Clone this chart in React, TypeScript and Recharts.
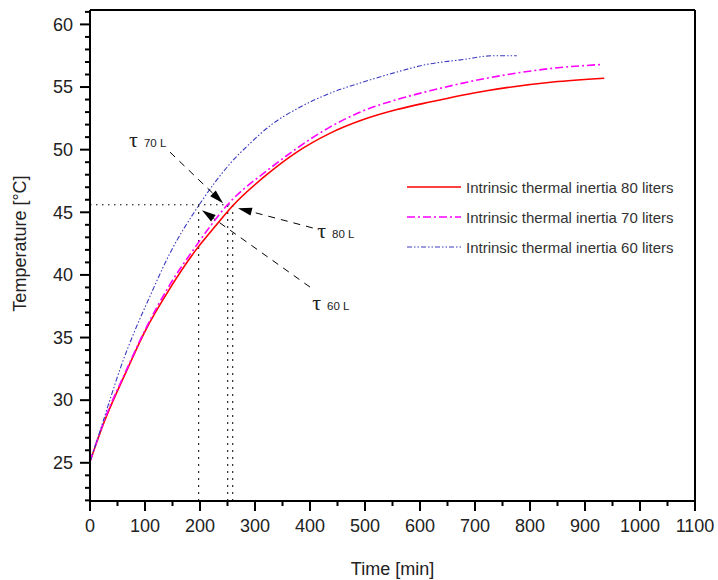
import React from 'react';
import { LineChart, Line, XAxis, YAxis, ReferenceLine, ReferenceDot, Legend } from 'recharts';

const FONT = '"Liberation Sans", Arial, sans-serif';

// readings: time [min] and temperature [°C]
const time80 = [0, 27, 64, 100, 145, 191, 230, 259, 327, 376, 436, 497, 558, 618, 721, 842, 935];
const temp80 = [25.1, 28.4, 32.1, 35.5, 38.9, 41.9, 44.0, 45.5, 48.2, 49.8, 51.3, 52.4, 53.2, 53.8, 54.7, 55.4, 55.7];

const time70 = [0, 27, 64, 100, 145, 191, 250, 327, 376, 436, 497, 558, 618, 721, 842, 931];
const temp70 = [25.1, 28.5, 32.2, 35.6, 39.2, 42.2, 45.6, 48.5, 50.1, 51.8, 53.1, 54.0, 54.7, 55.7, 56.5, 56.8];

const time60 = [0, 18, 36, 58, 82, 106, 145, 197, 255, 291, 327, 382, 436, 497, 558, 612, 679, 733, 776];
const temp60 = [25.1, 27.5, 30.0, 32.9, 35.6, 38.0, 41.7, 45.5, 48.9, 50.5, 51.9, 53.4, 54.5, 55.4, 56.2, 56.8, 57.2, 57.5, 57.5];

const seriesNames = [
    'Intrinsic thermal inertia 80 liters',
    'Intrinsic thermal inertia 70 liters',
    'Intrinsic thermal inertia 60 liters',
];
const seriesColors = ['#ff0000', '#ff00ff', '#3a3ac0'];
const seriesDash = ['', '8 3 2 3', '5 2 1.5 2 1.5 2'];

// time constants (tau) read where each curve crosses 45.6 °C
const tauLevel = 45.6;
const tauTimes = [197.6, 250.4, 259.5];

const xTicks = Array.from({ length: 23 }, (_, i) => i * 50);
const yTicks = Array.from({ length: 40 }, (_, i) => 22 + i);

const pairs = (ts: number[], vs: number[]) => ts.map((t, i) => ({ time: t, temp: vs[i] }));
const data80 = pairs(time80, temp80);
const data70 = pairs(time70, temp70);
const data60 = pairs(time60, temp60);

function XTick({ x, y, payload }: any) {
    const major = payload.value % 100 === 0;
    return (
        <g>
            <line x1={x} x2={x} y1={y} y2={y + (major ? 10 : 5)} stroke="#000" strokeWidth={2} />
            {major && (
                <text x={x} y={y + 31} textAnchor="middle" fontSize={18} fill="#222" fontFamily={FONT}>
                    {payload.value}
                </text>
            )}
        </g>
    );
}

function YTick({ x, y, payload }: any) {
    const major = payload.value % 5 === 0;
    return (
        <g>
            <line x1={x - (major ? 10 : 5)} x2={x} y1={y} y2={y} stroke="#000" strokeWidth={2} />
            {major && (
                <text x={x - 17} y={y} dy="0.35em" textAnchor="end" fontSize={18} fill="#222" fontFamily={FONT}>
                    {payload.value}
                </text>
            )}
        </g>
    );
}

function YTitle({ viewBox }: any) {
    const cx = 20;
    const cy = viewBox.y + viewBox.height / 2 - 12;
    return (
        <text x={cx} y={cy} transform={`rotate(-90 ${cx} ${cy})`} textAnchor="middle" dominantBaseline="central"
            fontSize={18} fill="#222" fontFamily={FONT}>
            Temperature [°C]
        </text>
    );
}

function XTitle({ viewBox }: any) {
    return (
        <text x={viewBox.x + viewBox.width / 2} y={575} textAnchor="middle" fontSize={18} fill="#222" fontFamily={FONT}>
            Time [min]
        </text>
    );
}

// dashed leader with a filled head at the second point
function Arrow({ x1, y1, x2, y2 }: any) {
    const len = Math.hypot(x2 - x1, y2 - y1);
    const ux = (x2 - x1) / len, uy = (y2 - y1) / len;
    const hl = 14, hw = 4;
    const bx = x2 - ux * hl, by = y2 - uy * hl;
    const pts = `${x2},${y2} ${bx - uy * hw},${by + ux * hw} ${bx + uy * hw},${by - ux * hw}`;
    return (
        <g>
            <line x1={x1} y1={y1} x2={bx} y2={by} stroke="#000" strokeWidth={1} strokeDasharray="7 6" />
            <polygon points={pts} fill="#000" />
        </g>
    );
}

function tauLabel(sub: string) {
    return ({ cx, cy }: any) => (
        <text x={cx} y={cy} fill="#222">
            <tspan fontFamily='"Liberation Serif", "DejaVu Serif", serif' fontSize={22}>τ</tspan>
            <tspan fontFamily={FONT} fontSize={11.5} dx={6}>{sub}</tspan>
        </text>
    );
}

function LegendBox() {
    return (
        <div style={{ fontFamily: FONT, fontSize: 15, color: '#333' }}>
            {seriesNames.map((name, i) => (
                <div key={name} style={{ display: 'flex', alignItems: 'center', height: 30 }}>
                    <svg width={56} height={10}>
                        <line x1={0} x2={54} y1={5} y2={5} stroke={seriesColors[i]} strokeWidth={i === 2 ? 1.2 : 1.6}
                            strokeDasharray={seriesDash[i]} />
                    </svg>
                    <span style={{ marginLeft: 3, whiteSpace: 'nowrap' }}>{name}</span>
                </div>
            ))}
        </div>
    );
}

const dotted = { stroke: '#000', strokeWidth: 1, strokeDasharray: '1.5 4.5' };

export default function App() {
    return (
        <div style={{ position: 'absolute', left: 0, top: 0, width: 718, height: 580, background: '#fff' }}>
            <LineChart width={718} height={580} margin={{ top: 10, right: 23, bottom: 19, left: 10 }}>
                <XAxis dataKey="time" type="number" domain={[0, 1100]} ticks={xTicks} interval={0} height={60}
                    tick={<XTick />} tickLine={false} tickSize={0} tickMargin={0}
                    axisLine={{ stroke: '#000', strokeWidth: 2 }} label={<XTitle />} allowDataOverflow />
                <YAxis type="number" domain={[21.95, 61.15]} ticks={yTicks} interval={0} width={80}
                    tick={<YTick />} tickLine={false} tickSize={0} tickMargin={0}
                    axisLine={{ stroke: '#000', strokeWidth: 2 }} label={<YTitle />} allowDataOverflow />

                <ReferenceLine y={61.15} stroke="#000" strokeWidth={2} ifOverflow="visible" />
                <ReferenceLine x={1100} stroke="#000" strokeWidth={2} ifOverflow="visible" />

                <ReferenceLine segment={[{ x: 0, y: tauLevel }, { x: tauTimes[2], y: tauLevel }]} {...dotted} />
                {tauTimes.map((t) => (
                    <ReferenceLine key={t} segment={[{ x: t, y: 21.95 }, { x: t, y: tauLevel }]} {...dotted}
                        strokeDasharray="2 5" />
                ))}

                <Line data={data80} dataKey="temp" name={seriesNames[0]} type="monotone" stroke={seriesColors[0]}
                    strokeWidth={1.6} dot={false} isAnimationActive={false} />
                <Line data={data70} dataKey="temp" name={seriesNames[1]} type="monotone" stroke={seriesColors[1]}
                    strokeWidth={1.6} strokeDasharray={seriesDash[1]} dot={false} isAnimationActive={false} />
                <Line data={data60} dataKey="temp" name={seriesNames[2]} type="monotone" stroke={seriesColors[2]}
                    strokeWidth={1.1} strokeDasharray={seriesDash[2]} dot={false} isAnimationActive={false} />

                <ReferenceLine segment={[{ x: 145.5, y: 49.8 }, { x: 242, y: 45.73 }]} shape={Arrow} />
                <ReferenceLine segment={[{ x: 405, y: 43.75 }, { x: 269, y: 45.33 }]} shape={Arrow} />
                <ReferenceLine segment={[{ x: 400, y: 39.03 }, { x: 203.6, y: 45.17 }]} shape={Arrow} />

                <ReferenceDot x={71} y={50.2} r={0} shape={tauLabel('70 L')} />
                <ReferenceDot x={413} y={42.95} r={0} shape={tauLabel('80 L')} />
                <ReferenceDot x={404} y={37.2} r={0} shape={tauLabel('60 L')} />

                <Legend layout="vertical" align="center" verticalAlign="middle" content={<LegendBox />}
                    wrapperStyle={{ left: 407, top: 172, width: 300, height: 90 }} />
            </LineChart>
        </div>
    );
}
